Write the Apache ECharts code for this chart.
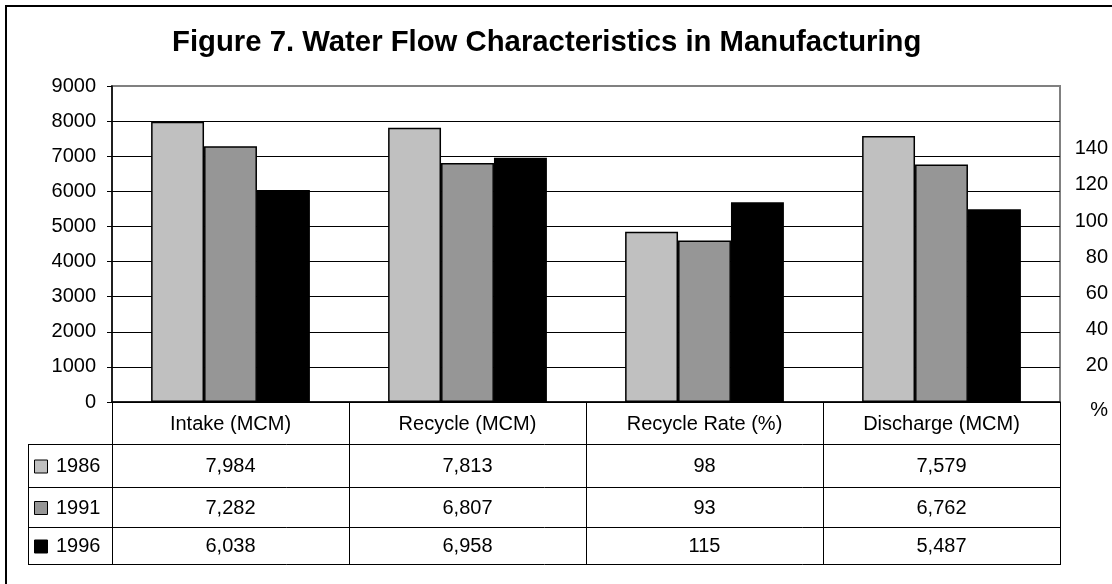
<!DOCTYPE html>
<html>
<head>
<meta charset="utf-8">
<script src="https://cdn.jsdelivr.net/npm/echarts@6/dist/echarts.min.js"></script>
<style>
  html, body { margin: 0; padding: 0; background: #fff; }
  #chart { width: 1112px; height: 584px; }
</style>
</head>
<body>
<div id="chart"></div>
<script>
const categories = ["Intake (MCM)", "Recycle (MCM)", "Recycle Rate (%)", "Discharge (MCM)"];
const years = ["1986", "1991", "1996"];
const values1986 = [7984, 7813, 98, 7579];
const values1991 = [7282, 6807, 93, 6762];
const values1996 = [6038, 6958, 115, 5487];
const leftMax = 9000;
const leftInterval = 1000;
const rightTicks = [20, 40, 60, 80, 100, 120, 140];
const rateIndex = 2; // the recycle rate is read on the % axis

const seriesValues = [values1986, values1991, values1996];
const colors = ["#c0c0c0", "#969696", "#000000"];
const font = "'Liberation Sans', Arial, sans-serif";

// plot area
const gridLeft = 112, gridTop = 86, gridWidth = 948, gridHeight = 316;
const gridBottom = gridTop + gridHeight;
const colWidth = gridWidth / categories.length;
const headerBottom = 444;
const rowLines = [444, 487, 527, 564];
const tableLeft = 28;

const chart = echarts.init(document.getElementById("chart"));

let series = [];
seriesValues.forEach((vals, i) => {
  const bar = {
    type: "bar",
    name: years[i],
    stack: "y" + i,
    barGap: 0,
    barCategoryGap: "33%",
    itemStyle: { color: colors[i], borderColor: "#000", borderWidth: 1.5 },
    animation: false,
  };
  // MCM values on the left axis
  series.push(Object.assign({}, bar, {
    yAxisIndex: 0,
    data: vals.map((v, k) => (k === rateIndex ? "-" : v)),
  }));
  // recycle rate on the % axis
  series.push(Object.assign({}, bar, {
    yAxisIndex: 1,
    data: vals.map((v, k) => (k === rateIndex ? v : "-")),
  }));
});

// data table under the plot
let graphics = [];
const line = (x1, y1, x2, y2, color, w) => ({
  type: "line",
  silent: true,
  shape: { x1: x1, y1: y1, x2: x2, y2: y2 },
  style: { stroke: color || "#000", lineWidth: w || 1 },
  z: 10,
});
// outer frame
graphics.push({
  type: "rect",
  silent: true,
  shape: { x: 6, y: 6, width: 1200, height: 700 },
  style: { fill: "none", stroke: "#000", lineWidth: 2 },
  z: 10,
});
for (let k = 0; k <= categories.length; k++) {
  const x = gridLeft + k * colWidth + 0.5;
  graphics.push(line(x, gridBottom, x, rowLines[3]));
}
graphics.push(line(tableLeft + 0.5, headerBottom, tableLeft + 0.5, rowLines[3]));
rowLines.forEach((y) => {
  graphics.push(line(tableLeft, y + 0.5, gridLeft + gridWidth + 1, y + 0.5));
});
years.forEach((yr, i) => {
  const cy = (rowLines[i] + rowLines[i + 1]) / 2 + 1;
  graphics.push({
    type: "rect",
    silent: true,
    shape: { x: 34.5, y: cy - 6.5, width: 13, height: 13 },
    style: { fill: colors[i], stroke: "#000", lineWidth: 1 },
    z: 10,
  });
  graphics.push({
    type: "text",
    silent: true,
    x: 56,
    y: cy,
    style: { text: yr, font: "20px " + font, fill: "#000", verticalAlign: "middle", align: "left" },
    z: 10,
  });
  seriesValues[i].forEach((v, k) => {
    graphics.push({
      type: "text",
      silent: true,
      x: gridLeft + (k + 0.5) * colWidth,
      y: cy,
      style: {
        text: v.toLocaleString("en-US"),
        font: "20px " + font,
        fill: "#000",
        align: "center",
        verticalAlign: "middle",
      },
      z: 10,
    });
  });
});

chart.setOption({
  animation: false,
  backgroundColor: "#fff",
  title: {
    text: "Figure 7. Water Flow Characteristics in Manufacturing",
    left: 167,
    top: 23,
    textStyle: { fontFamily: font, fontSize: 29.3, fontWeight: "bold", color: "#000" },
  },
  grid: {
    left: gridLeft,
    top: gridTop,
    width: gridWidth,
    height: gridHeight,
    show: true,
    borderColor: "#808080",
    borderWidth: 2,
    backgroundColor: "#fff",
  },
  xAxis: {
    type: "category",
    data: categories,
    axisLine: { lineStyle: { color: "#000", width: 1.5 } },
    axisTick: { show: true, length: 8, lineStyle: { color: "#000" } },
    axisLabel: { color: "#000", fontFamily: font, fontSize: 20, margin: 12 },
  },
  yAxis: [
    {
      type: "value",
      min: 0,
      max: leftMax,
      interval: leftInterval,
      axisLine: { show: true, lineStyle: { color: "#000", width: 1.5 } },
      axisTick: { show: true, length: 5, lineStyle: { color: "#000" } },
      axisLabel: { color: "#000", fontFamily: font, fontSize: 20, margin: 16, formatter: (v) => String(v) },
      splitLine: { show: true, showMaxLine: false, lineStyle: { color: "#000", width: 1 } },
    },
    {
      type: "value",
      min: 0,
      max: 182,
      show: false,
    },
    {
      // the % labels on the right
      type: "value",
      position: "right",
      min: 0,
      max: 174.7,
      interval: 20,
      axisLine: { show: false },
      axisTick: { show: false },
      splitLine: { show: false },
      axisLabel: {
        color: "#000",
        fontFamily: font,
        fontSize: 20,
        align: "right",
        margin: 48,
        showMaxLabel: false,
        formatter: (v) => (v === 0 ? "{p|%}" : rightTicks.includes(v) ? String(v) : ""),
        rich: { p: { fontFamily: font, fontSize: 20, color: "#000", padding: [16, 0, 0, 0] } },
      },
    },
  ],
  series: series,
  graphic: graphics,
});
</script>
</body>
</html>
